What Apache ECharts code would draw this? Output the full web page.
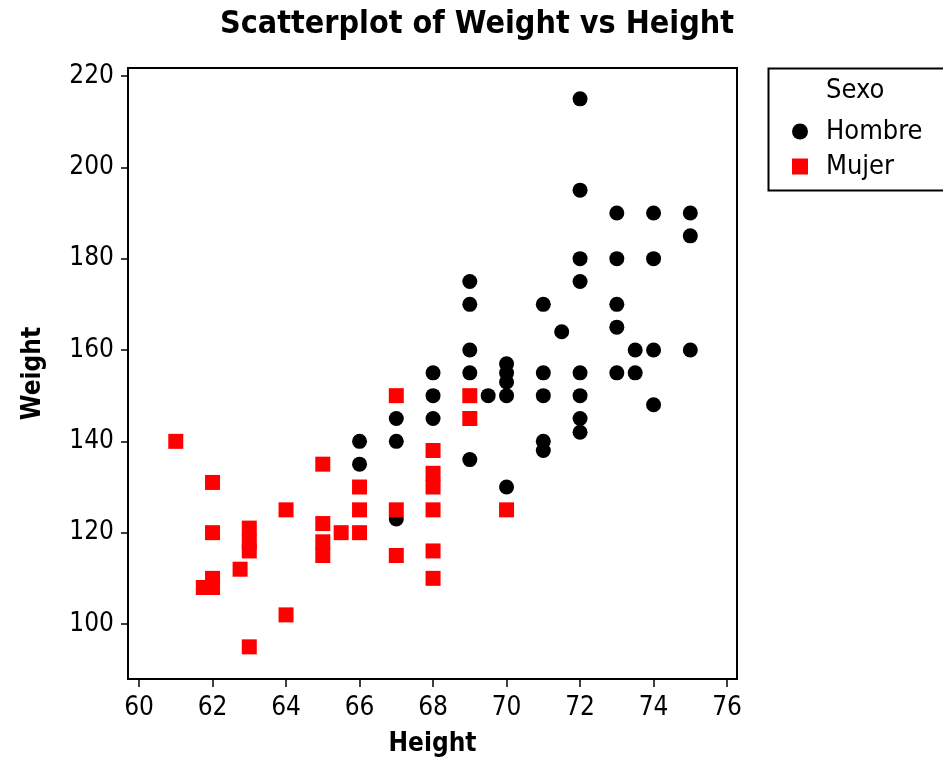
<!DOCTYPE html>
<html>
<head>
<meta charset="utf-8">
<script src="https://cdn.jsdelivr.net/npm/echarts@6/dist/echarts.min.js"></script>
<style>html,body{margin:0;padding:0;background:#fff}#c{width:943px;height:758px}</style>
</head>
<body>
<div id="c"></div>
<script>
const titleText = 'Scatterplot of Weight vs Height';
const xName = 'Height';
const yName = 'Weight';
const legendTitle = 'Sexo';
const seriesNames = ['Hombre', 'Mujer'];
const xTicks = [60, 62, 64, 66, 68, 70, 72, 74, 76];
const yTicks = [100, 120, 140, 160, 180, 200, 220];

const hombreHeight = [66,66,67,67,67,68,68,68,69,69,69,69,69,69.5,70,70,70,70,70,71,71,71,71,71,71.5,72,72,72,72,72,72,72,72,73,73,73,73,73,73.5,73.5,74,74,74,74,75,75,75];
const hombreWeight = [140,135,145,140,123,155,150,145,175,170,160,155,136,150,157,155,153,150,130,170,155,150,140,138,164,215,195,180,175,155,150,145,142,190,180,170,165,155,160,155,190,180,160,148,190,185,160];

const mujerHeight = [61,61.75,62,62,62,62,62.75,63,63,63,63,64,64,65,65,65,65,65.5,66,66,66,67,67,67,68,68,68,68,68,68,69,69,70];
const mujerWeight = [140,108,131,120,110,108,112,121,118,116,95,125,102,135,122,118,115,120,130,125,120,150,125,115,138,133,130,125,116,110,150,145,125];

const zip = (a, b) => a.map((v, i) => [v, b[i]]);

const font = '"DejaVu Sans Condensed", "DejaVu Sans", sans-serif';
const chart = echarts.init(document.getElementById('c'));
chart.setOption({
  animation: false,
  backgroundColor: '#fff',
  title: {
    text: titleText, left: 472, top: 4, textAlign: 'center',
    textStyle: { fontFamily: font, fontWeight: 'bold', fontSize: 32, color: '#000' }
  },
  grid: { left: 128, right: 206, top: 68, bottom: 79, outerBoundsMode: 'none', containLabel: false, show: true, borderColor: '#000', borderWidth: 2, backgroundColor: 'transparent' },
  legend: {
    orient: 'vertical', left: 787, top: 113, itemGap: 8,
    itemWidth: 16, itemHeight: 16,
    data: [
      { name: seriesNames[0], icon: 'circle' },
      { name: seriesNames[1], icon: 'rect' }
    ],
    textStyle: { fontFamily: font, fontSize: 27, color: '#000', padding: [0, 0, 0, 13] }
  },
  graphic: [
    { type: 'rect', left: 766, top: 66, shape: { width: 200, height: 122 }, style: { fill: 'none', stroke: '#000', lineWidth: 2 }, z: 0 },
    { type: 'text', left: 826, top: 77, style: { text: legendTitle, font: '27px ' + font, fill: '#000' } }
  ],
  xAxis: {
    type: 'value', min: 59.70, max: 76.27, name: xName, nameLocation: 'middle', nameGap: 52,
    nameTextStyle: { fontFamily: font, fontWeight: 'bold', fontSize: 26, color: '#000' },
    axisLine: { show: true, lineStyle: { color: '#000', width: 2 } },
    axisTick: { show: true, length: 8, lineStyle: { color: '#000', width: 1.5 }, customValues: xTicks },
    axisLabel: { customValues: xTicks, fontFamily: font, fontSize: 26, color: '#000', margin: 16 },
    splitLine: { show: false }
  },
  yAxis: {
    type: 'value', min: 87.96, max: 221.75, name: yName, nameLocation: 'middle', nameGap: 82,
    nameTextStyle: { fontFamily: font, fontWeight: 'bold', fontSize: 26, color: '#000' },
    axisLine: { show: true, lineStyle: { color: '#000', width: 2 } },
    axisTick: { show: true, length: 7, lineStyle: { color: '#000', width: 1.5 }, customValues: yTicks },
    axisLabel: { customValues: yTicks, fontFamily: font, fontSize: 26, color: '#000', margin: 14 },
    splitLine: { show: false }
  },
  series: [
    { name: seriesNames[0], type: 'scatter', symbol: 'circle', symbolSize: 15, itemStyle: { color: '#000', opacity: 1 }, data: zip(hombreHeight, hombreWeight), z: 2 },
    { name: seriesNames[1], type: 'scatter', symbol: 'rect', symbolSize: 15, itemStyle: { color: '#ff0000', opacity: 1 }, data: zip(mujerHeight, mujerWeight), z: 3 }
  ]
});
</script>
</body>
</html>
